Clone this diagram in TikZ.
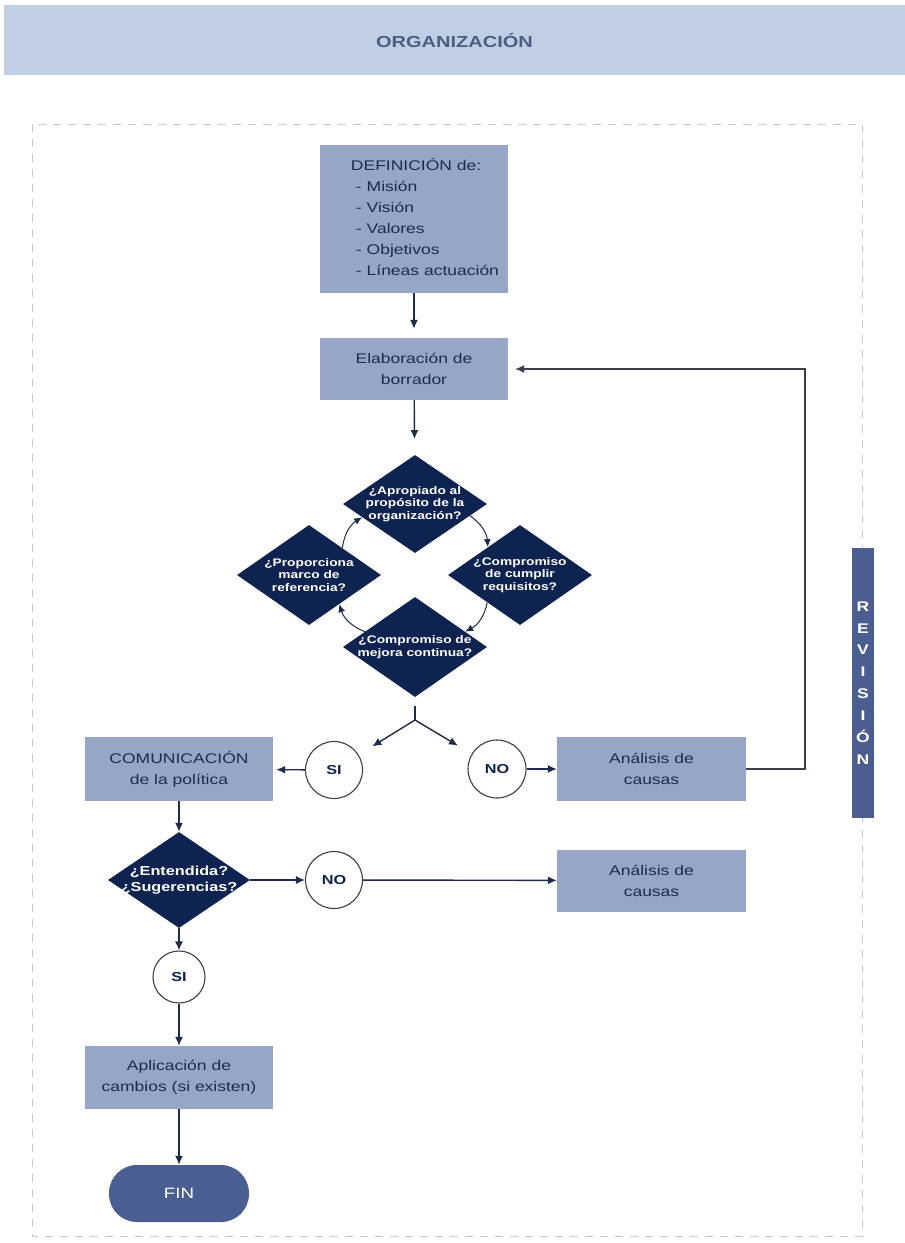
\documentclass[tikz,border=0pt]{standalone}
\usepackage{fontspec}
\setmainfont{Liberation Sans}[FakeStretch=1.25]
\usetikzlibrary{shapes.geometric,arrows.meta}
\definecolor{bannerc}{HTML}{C0CFE4}
\definecolor{orgtext}{HTML}{4D5C85}
\definecolor{boxc}{HTML}{97A5C6}
\definecolor{boxtext}{HTML}{1D2B4F}
\definecolor{navy}{HTML}{0F2350}
\definecolor{steel}{HTML}{4A5E91}
\definecolor{linec}{HTML}{1E2B4A}
\definecolor{framec}{HTML}{C8C8C8}
\definecolor{loopc}{HTML}{3A3F4A}
\begin{document}
\begin{tikzpicture}[x=1pt,y=-1pt,
  bx/.style={rectangle, fill=boxc, inner sep=0pt, minimum width=188pt, minimum height=63pt,
    text=boxtext, align=center, font=\fontsize{14}{21}\selectfont},
  dia/.style={diamond, fill=navy, inner sep=0pt, minimum width=144pt, minimum height=98pt},
  diatext/.style={text=white, align=center, inner sep=0pt, font=\bfseries\fontsize{11}{12.5}\selectfont},
  circ/.style={circle, draw=loopc, line width=1.1pt, fill=white, inner sep=0pt, minimum size=57pt,
    text=navy, font=\bfseries\fontsize{13}{15}\selectfont},
  arr/.style={draw=linec, line width=1.4pt, -{Latex[length=9pt,width=8pt]}},
  plainline/.style={draw=linec, line width=1.4pt},
  frame/.style={draw=framec, line width=1pt, dash pattern=on 8pt off 7pt}]
\useasboundingbox (0,0) rectangle (905,1243);
\fill[white] (0,0) rectangle (905,1243);

% banner
\node[rectangle, fill=bannerc, inner sep=0pt, minimum width=901pt, minimum height=70pt,
  text=orgtext, font=\bfseries\fontsize{16}{18}\selectfont] (org) at (454.5,40) {ORGANIZACIÓN};

% dashed frame
\draw[frame] (32,124) rectangle (862,1236);

% boxes
\node[bx, minimum height=148pt] (def) at (414,219) {};
\node[text=boxtext, align=left, inner sep=0pt, font=\fontsize{14}{21}\selectfont] (deftext) at (425,217)
  {DEFINICIÓN de:\\\hspace{5pt}- Misión\\\hspace{5pt}- Visión\\\hspace{5pt}- Valores\\\hspace{5pt}- Objetivos\\\hspace{5pt}- Líneas actuación};
\node[bx, minimum height=62pt] (elab) at (414,369) {Elaboración de\\borrador};

% diamonds cycle
\node[dia, label={[diatext]center:{¿Apropiado al\\propósito de la\\organización?}}] (d1) at (415,504) {};
\node[dia, minimum height=100pt, label={[diatext]center:{¿Compromiso\\de cumplir\\requisitos?}}] (d2) at (520,575) {};
\node[dia, minimum height=100pt, label={[diatext]center:{¿Proporciona\\marco de\\referencia?}}] (d3) at (309,575) {};
\node[dia, minimum height=100pt, label={[diatext]center:{¿Compromiso de\\mejora continua?}}] (d4) at (415,647) {};

\draw[arr, line width=1pt, -{Latex[length=8pt,width=7pt]}, bend left=25] (d1.-12) to (d2.139);
\draw[arr, line width=1pt, -{Latex[length=8pt,width=7pt]}, bend left=25] (d2.220) to (d4.17);
\draw[arr, line width=1pt, -{Latex[length=8pt,width=7pt]}, bend left=25] (d4.163) to (d3.-44);
\draw[arr, line width=1pt, -{Latex[length=8pt,width=7pt]}, bend left=25] (d3.39) to (d1.194);

% fork
\coordinate (fk) at (415,720);
\draw[plainline, shorten <=9pt] (d4.south) -- (fk);

% first branch nodes
\node[circ] (si1) at (334,770) {SI};
\node[circ, minimum size=58pt] (no1) at (497,769) {NO};
\node[bx, minimum height=64pt] (com) at (179,769) {COMUNICACIÓN\\de la política};
\node[bx, minimum width=189pt, minimum height=64pt] (an1) at (651.5,769) {Análisis de\\causas};

\draw[arr, shorten >=16pt] (fk) -- (si1);
\draw[arr, shorten >=16pt] (fk) -- (no1);
\draw[arr, shorten >=3pt] (si1) -- (com);
\draw[arr] (no1) -- (an1);

% revision loop
\coordinate (rv) at (805,769);
\draw[draw=loopc, line width=1.2pt, -{Latex[length=9pt,width=8pt]}, shorten >=7pt] (an1.east) -- (rv) |- (elab.east);

\draw[arr, shorten >=9pt] (def) -- (elab);
\draw[arr, shorten >=16pt] (elab) -- (d1);

% second decision
\node[dia, minimum width=142pt, minimum height=96pt,
  label={[diatext, font=\bfseries\fontsize{13}{16}\selectfont]center:{¿Entendida?\\¿Sugerencias?}}] (d5) at (179,880) {};
\node[circ] (no2) at (334,880) {NO};
\node[bx, minimum width=189pt, minimum height=62pt] (an2) at (651.5,880.5) {Análisis de\\causas};
\node[circ, minimum size=52pt] (si2) at (179,977) {SI};
\node[bx, minimum height=63pt] (apl) at (179,1077.5) {Aplicación de\\cambios (si existen)};
\node[rectangle, rounded corners=28pt, fill=steel, minimum width=140pt, minimum height=57pt,
  inner sep=0pt, text=white, font=\fontsize{15}{17}\selectfont] (fin) at (179,1193.5) {FIN};

\draw[arr] (com) -- (d5);
\draw[arr] (d5) -- (no2);
\draw[arr] (no2) -- (an2);
\draw[arr] (d5.south) -- (si2.north);
\draw[arr] (si2.south) -- (apl.north);
\draw[arr] (apl.south) -- (fin.north);

% revision bar
\node[rectangle, fill=steel, inner sep=0pt, minimum width=22pt, minimum height=270pt,
  text=white, align=center, font=\bfseries\fontsize{14}{21.9}\selectfont] (rev) at (863,683)
  {R\\E\\V\\I\\S\\I\\Ó\\N};
\end{tikzpicture}
\end{document}
